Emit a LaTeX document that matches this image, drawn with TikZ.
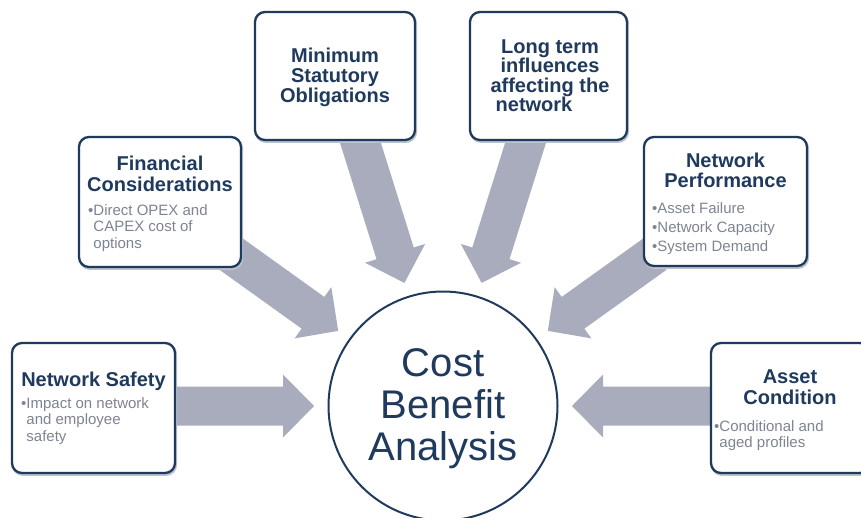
\documentclass[tikz,border=0pt]{standalone}
\usepackage{fontspec}
\setmainfont{Liberation Sans}
\usetikzlibrary{calc}
\definecolor{navy}{HTML}{1F3A5C}
\definecolor{bulletgray}{HTML}{7E8494}
\definecolor{arrowgray}{HTML}{A8ACBC}
\pgfdeclarelayer{bg}
\pgfsetlayers{bg,main}
\newcommand\clines[1]{\vtop{\halign{\hfil##\hfil\cr#1\crcr}}}
\newcommand\llines[1]{\vtop{\halign{##\hfil\cr#1\crcr}}}
\newcommand\blockarrow[2]{%
  \coordinate (arrtip) at ($(#2.center)!129pt!(#1)$);
  \coordinate (arrhead) at ($(arrtip)!31pt!(#1)$);
  \fill[arrowgray] ($(#1)!19.5pt!90:(arrtip)$) -- ($(arrhead)!19.5pt!90:(arrtip)$)
    -- ($(arrhead)!31.5pt!90:(arrtip)$) -- (arrtip)
    -- ($(arrhead)!31.5pt!-90:(arrtip)$) -- ($(arrhead)!19.5pt!-90:(arrtip)$)
    -- ($(#1)!19.5pt!-90:(arrtip)$) -- cycle;
}
\tikzset{
  infobox/.style={draw=navy, line width=2.3pt, rounded corners=10pt, fill=white, inner sep=0pt,
    preaction={draw=navy!30, line width=2.3pt, transform canvas={shift={(1pt,-1.8pt)}}}},
  title/.style={text=navy, font=\bfseries\fontsize{20}{20}\selectfont, inner sep=0pt, anchor=base},
  bul/.style={text=bulletgray, font=\fontsize{15}{16.5}\selectfont, inner sep=0pt, anchor=base west},
  big/.style={text=navy, font=\fontsize{40}{42}\selectfont, inner sep=0pt, anchor=base}
}
\begin{document}
\begin{tikzpicture}[x=1pt,y=-1pt]
\useasboundingbox (0,0) rectangle (861,517);
\begin{pgfonlayer}{bg}
\fill[white] (0,0) rectangle (861,517);
\end{pgfonlayer}

% boxes
\node[infobox, minimum width=160pt, minimum height=128pt] (bmin) at (335,76) {};
\node[infobox, minimum width=157pt, minimum height=128pt] (blong) at (548.5,76) {};
\node[infobox, minimum width=162pt, minimum height=130pt] (bfin) at (160,202) {};
\node[infobox, minimum width=163pt, minimum height=129pt] (bnp) at (725.5,201.5) {};
\node[infobox, minimum width=163pt, minimum height=130pt] (bsafe) at (93.5,408) {};
\node[infobox, minimum width=159pt, minimum height=130pt] (basset) at (790.5,408) {};
\node[circle, draw=navy, line width=2pt, fill=white, minimum size=229pt, inner sep=0pt] (cba) at (443,406) {};

% texts
\node[title, font=\bfseries\fontsize{20}{20}\selectfont] (tmin) at (335,62) {\clines{Minimum\cr Statutory\cr Obligations}};
\node[title, font=\bfseries\fontsize{20}{19.5}\selectfont] (tlong) at (550,53) {\clines{Long term\cr influences\cr affecting the\cr network\hspace*{32pt}}};
\node[title, font=\bfseries\fontsize{20}{21}\selectfont] (tfin) at (160,170) {\clines{Financial\cr Considerations}};
\node[bul] (bufin) at (88,215) {\llines{•Direct OPEX and\cr \phantom{•}CAPEX cost of\cr \phantom{•}options}};
\node[title, font=\bfseries\fontsize{20}{20}\selectfont] (tnp) at (725.5,167) {\clines{Network\cr Performance}};
\node[bul, font=\fontsize{15}{19}\selectfont] (bunp) at (652,213) {\llines{•Asset Failure\cr •Network Capacity\cr •System Demand}};
\node[title] (tsafe) at (93.5,386) {Network Safety};
\node[bul] (busafe) at (21,408) {\llines{•Impact on network\cr \phantom{•}and employee\cr \phantom{•}safety}};
\node[title, font=\bfseries\fontsize{20}{21}\selectfont] (tasset) at (790,383) {\clines{Asset\cr Condition}};
\node[bul] (buasset) at (714,431) {\llines{•Conditional and\cr \phantom{•}aged profiles}};
\node[big] (cba1) at (443,376) {Cost};
\node[big] (cba2) at (443,418) {Benefit};
\node[big] (cba3) at (443,460) {Analysis};

% arrows
\coordinate (ssafe) at (170,406);
\coordinate (sasset) at (716,406);
\coordinate (sfin) at (231,254);
\coordinate (snp) at (655,254);
\coordinate (smin) at (358,135);
\coordinate (slong) at (528,135);
\begin{pgfonlayer}{bg}
\blockarrow{ssafe}{cba}
\blockarrow{sasset}{cba}
\blockarrow{sfin}{cba}
\blockarrow{snp}{cba}
\blockarrow{smin}{cba}
\blockarrow{slong}{cba}
\end{pgfonlayer}
\end{tikzpicture}
\end{document}
